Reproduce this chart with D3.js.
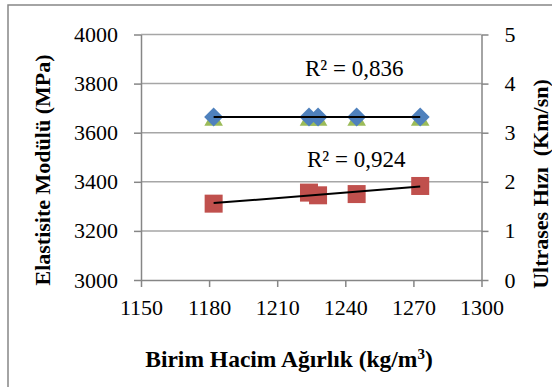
<!DOCTYPE html>
<html lang="tr">

<head>
    <meta charset="UTF-8" />
    <title>Birim Hacim Ağırlık</title>
    <script src="https://cdn.jsdelivr.net/npm/d3@7"></script>
    <style>
        body { margin: 0; background: #fff; }
        text { font-family: "Liberation Serif", "Times New Roman", serif; fill: #000; }
    </style>
</head>

<body>
<script>
    // birim hacim ağırlık (kg/m3)
    const birimHacim = [1182, 1224, 1228, 1245, 1273];
    // elastisite modülü (MPa) - sol eksen
    const elastisite = [3311, 3356, 3345, 3350, 3383];
    // ultrases hızı (km/sn) - sağ eksen
    const ultrases = [3.32, 3.32, 3.32, 3.32, 3.32];
    const ultrases2 = [3.25, 3.25, 3.25, 3.25, 3.25];

    const xTicks = [1150, 1180, 1210, 1240, 1270, 1300];
    const yTicksSol = [3000, 3200, 3400, 3600, 3800, 4000];
    const yTicksSag = [0, 1, 2, 3, 4, 5];
    const r2Etiket = ["R² = 0,836", "R² = 0,924"];

    const w = 552, h = 387;
    const m = { left: 141, right: 481.5, top: 34.5, bottom: 280 };

    const svg = d3.select("body").append("svg")
        .attr("width", w)
        .attr("height", h);

    // dış çerçeve
    svg.append("rect")
        .attr("x", 8).attr("y", 5)
        .attr("width", 600).attr("height", 420)
        .attr("fill", "none")
        .attr("stroke", "#878787")
        .attr("stroke-width", 1.5);

    const x = d3.scaleLinear().domain([1150, 1300]).range([m.left, m.right]);
    const ySol = d3.scaleLinear().domain([3000, 4000]).range([m.bottom, m.top]);
    const ySag = d3.scaleLinear().domain([0, 5]).range([m.bottom, m.top]);

    // yatay ızgara
    svg.append("g").selectAll("line")
        .data(yTicksSol.slice(1))
        .enter().append("line")
        .attr("x1", m.left).attr("x2", m.right)
        .attr("y1", d => ySol(d)).attr("y2", d => ySol(d))
        .attr("stroke", "#a6a6a6")
        .attr("stroke-width", 1.5);

    const axisStyle = g => {
        g.attr("font-family", null).attr("font-size", null);
        g.select(".domain").attr("stroke", "#868686").attr("stroke-width", 1.5);
        g.selectAll(".tick line").attr("stroke", "#868686").attr("stroke-width", 1.5);
        g.selectAll(".tick text")
            .style("font-family", '"Liberation Serif", serif')
            .style("font-size", "22px").attr("fill", "#000");
    };

    const fmt = d3.format("d");

    svg.append("g")
        .attr("transform", `translate(0,${m.bottom})`)
        .call(d3.axisBottom(x).tickValues(xTicks).tickFormat(fmt).tickSize(7).tickSizeOuter(0).tickPadding(12))
        .call(axisStyle);

    svg.append("g")
        .attr("transform", `translate(${m.left},0)`)
        .call(d3.axisLeft(ySol).tickValues(yTicksSol).tickFormat(fmt).tickSize(7).tickSizeOuter(0).tickPadding(16))
        .call(axisStyle);

    svg.append("g")
        .attr("transform", `translate(${m.right},0)`)
        .call(d3.axisRight(ySag).tickValues(yTicksSag).tickFormat(fmt).tickSize(7).tickSizeOuter(0).tickPadding(16))
        .call(axisStyle);

    // eğilim çizgisi (doğrusal regresyon)
    function trend(xs, ys) {
        const mx = d3.mean(xs), my = d3.mean(ys);
        let sxy = 0, sxx = 0;
        xs.forEach((v, i) => { sxy += (v - mx) * (ys[i] - my); sxx += (v - mx) * (v - mx); });
        const b = sxx ? sxy / sxx : 0;
        const x0 = d3.min(xs), x1 = d3.max(xs);
        return [[x0, my + b * (x0 - mx)], [x1, my + b * (x1 - mx)]];
    }

    // yeşil üçgenler
    svg.append("g").selectAll("path")
        .data(birimHacim)
        .enter().append("path")
        .attr("d", d3.symbol().type(d3.symbolTriangle).size(150))
        .attr("transform", (d, i) => `translate(${x(d)},${ySag(ultrases2[i])})`)
        .attr("fill", "#9bbb59");

    // mavi karolar
    svg.append("g").selectAll("path")
        .data(birimHacim)
        .enter().append("path")
        .attr("d", "M0,-9.5L9.5,0L0,9.5L-9.5,0Z")
        .attr("transform", (d, i) => `translate(${x(d)},${ySag(ultrases[i])})`)
        .attr("fill", "#4f81bd");

    // kırmızı kareler
    svg.append("g").selectAll("rect")
        .data(birimHacim)
        .enter().append("rect")
        .attr("x", d => x(d) - 9)
        .attr("y", (d, i) => ySol(elastisite[i]) - 9)
        .attr("width", 18).attr("height", 18)
        .attr("fill", "#c0504d");

    const line = d3.line();
    const t1 = trend(birimHacim, ultrases);
    svg.append("path")
        .attr("d", line(t1.map(p => [x(p[0]), ySag(p[1])])))
        .attr("stroke", "#000").attr("stroke-width", 2).attr("fill", "none");

    const t2 = trend(birimHacim, elastisite);
    svg.append("path")
        .attr("d", line(t2.map(p => [x(p[0]), ySol(p[1])])))
        .attr("stroke", "#000").attr("stroke-width", 2).attr("fill", "none");

    // R² etiketleri
    svg.append("text").attr("x", 305).attr("y", 76)
        .style("font-size", "23px").text(r2Etiket[0]);
    svg.append("text").attr("x", 307).attr("y", 167)
        .style("font-size", "23px").text(r2Etiket[1]);

    // eksen başlıkları
    svg.append("text")
        .attr("transform", "translate(50,170) rotate(-90)")
        .attr("text-anchor", "middle")
        .style("font-size", "22px").style("font-weight", "bold")
        .text("Elastisite Modülü (MPa)");

    svg.append("text")
        .attr("transform", "translate(548,184) rotate(-90)")
        .attr("text-anchor", "middle")
        .style("font-size", "22px").style("font-weight", "bold")
        .style("white-space", "pre")
        .text("Ultrases Hızı  (Km/sn)");

    const bt = svg.append("text")
        .attr("x", 289).attr("y", 367)
        .attr("text-anchor", "middle")
        .style("font-size", "23.5px").style("font-weight", "bold");
    bt.append("tspan").text("Birim Hacim Ağırlık (kg/m");
    bt.append("tspan").attr("dy", -8).style("font-size", "15px").text("3");
    bt.append("tspan").attr("dy", 8).text(")");
</script>
</body>

</html>
